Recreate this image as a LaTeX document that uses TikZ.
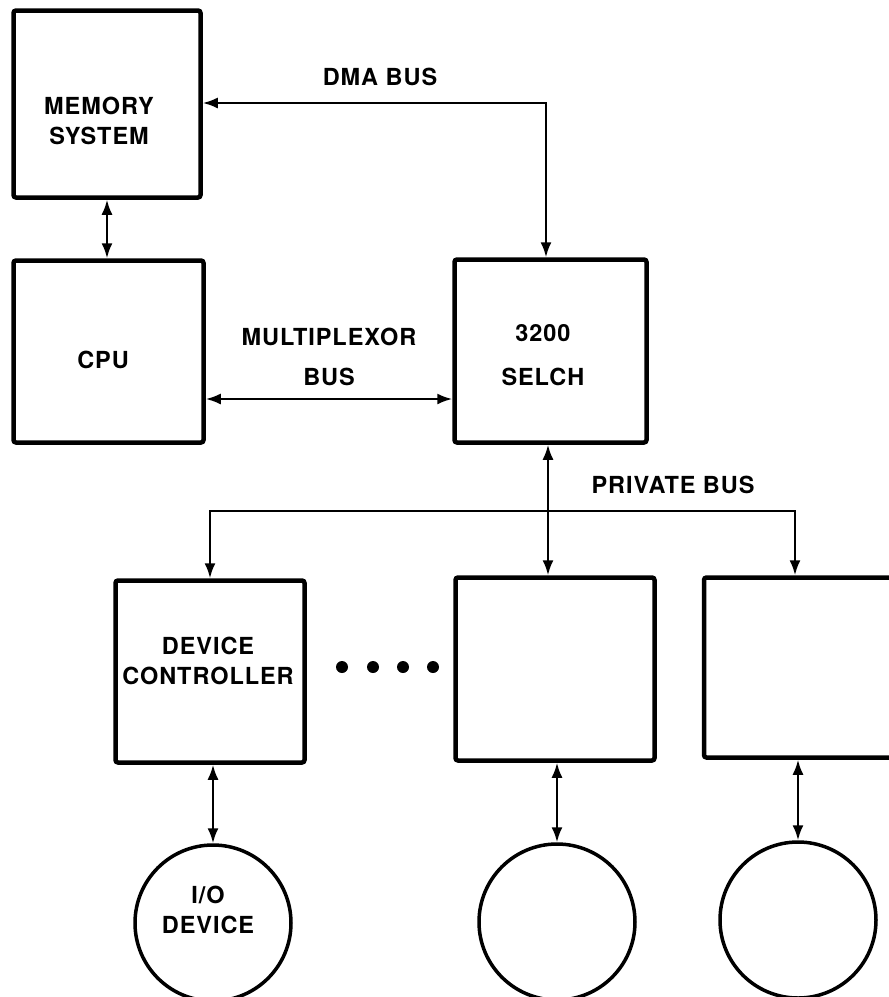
\documentclass[tikz,border=0pt]{standalone}
\usepackage{fontspec}
\setmainfont{TeX Gyre Heros}[LetterSpace=4]
\usetikzlibrary{arrows.meta,positioning}
\tikzset{
  blk/.style={draw, line width=4.5pt, rounded corners=2.5pt, inner sep=0pt},
  dev/.style={draw, circle, line width=3.5pt, minimum size=156pt, inner sep=0pt},
  lbl/.style={font=\fontsize{23.5}{30}\selectfont\bfseries, align=center, inner sep=0pt},
  bus/.style={line width=2.2pt, {Latex[length=15pt,width=11pt]}-{Latex[length=15pt,width=11pt]}}
}
\begin{document}
\begin{tikzpicture}[x=1pt, y=-1pt]
\useasboundingbox (0,0) rectangle (889,997);
\clip (0,0) rectangle (889,997);
% upper row
\node[blk, minimum width=187pt, minimum height=187pt] (mem) at (107,104) {};
\node[blk, minimum width=190pt, minimum height=182pt] (cpu) at (108.5,351.5) {};
\node[blk, minimum width=192pt, minimum height=183pt] (selch) at (550.5,351) {};
% controllers and devices
\node[blk, minimum width=189pt, minimum height=182pt] (devc) at (210,671.5) {};
\node[blk, minimum width=199pt, minimum height=183pt] (ctl2) at (555,669) {};
\node[blk, minimum width=196pt, minimum height=180pt] (ctl3) at (802,667.5) {};
\node[dev] (io1) at (213,923) {};
\node[dev] (io2) at (557,922) {};
\node[dev] (io3) at (798,920) {};
\foreach \x in {342,373,403,433}
  \fill (\x,667) circle (6pt);
% texts
\node[lbl] (memtxt) at (99,121) {MEMORY\\SYSTEM};
\node[lbl] (cputxt) at (103,360) {CPU};
\node[lbl] (seltxt) at (543,355) {3200\\[14pt]SELCH};
\node[lbl] (devtxt) at (208,661) {DEVICE\\CONTROLLER};
\node[lbl] (iotxt) at (208,910) {I/O\\DEVICE};
\node[lbl] (dmatxt) at (380,77) {DMA BUS};
\node[lbl] (muxtxt) at (329,357) {MULTIPLEXOR\\[10pt]BUS};
\node[lbl] (pvttxt) at (673,485) {PRIVATE BUS};
% buses
\coordinate (dma) at (546,103);
\coordinate (mux) at (0,399);
\coordinate (pvt) at (548,0);
\coordinate (pl) at (210,511);
\coordinate (pr) at (795,511);
\draw[bus] (mem.south) -- (mem.south |- cpu.north);
\draw[bus] (mem.east |- dma) -- (dma) -- (dma |- selch.north);
\draw[bus] (cpu.east |- mux) -- (selch.west |- mux);
\draw[bus] (selch.south -| pvt) -- (ctl2.north -| pvt);
\draw[bus] (devc.north -| pl) -- (pl) -- (pr) -- (pr |- ctl3.north);
\draw[bus] (io1.north |- devc.south) -- (io1.north);
\draw[bus] (io2.north |- ctl2.south) -- (io2.north);
\draw[bus] (io3.north |- ctl3.south) -- (io3.north);
\end{tikzpicture}
\end{document}
